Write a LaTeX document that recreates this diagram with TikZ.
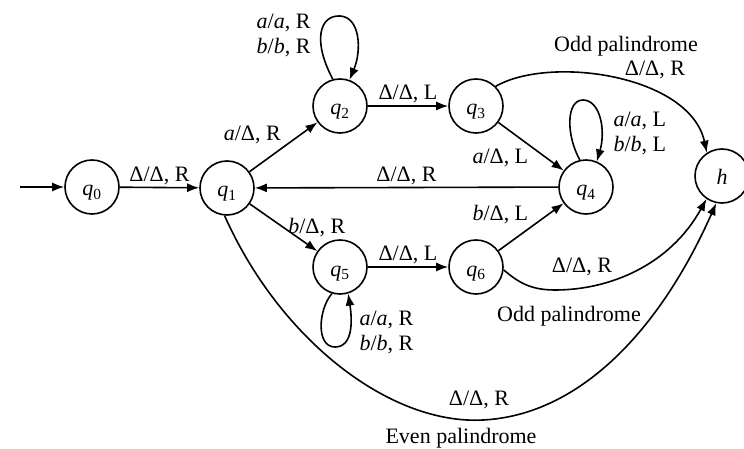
\documentclass[tikz,border=0pt]{standalone}
\usepackage{fontspec}
\setmainfont{Liberation Serif}
\usetikzlibrary{arrows.meta}
\newcommand{\qst}[1]{\smash{\raisebox{-9pt}{\textit{q}\textsubscript{#1}}}}
\newcommand{\hst}{\smash{\raisebox{-9pt}{\textit{h}}}}
\begin{document}
\begin{tikzpicture}[x=1pt,y=-1pt,
  every node/.style={font=\fontsize{22}{25}\selectfont},
  state/.style={circle, draw, line width=1.6pt, minimum size=54pt, inner sep=0pt},
  trans/.style={line width=1.6pt, -{Latex[length=12pt,width=9pt]}},
  lbl/.style={inner sep=2pt}]
\useasboundingbox (0,0) rectangle (744,449);

% states
\node[state] (q0) at (92,187) {\qst{0}};
\node[state] (q1) at (227,188) {\qst{1}};
\node[state] (q2) at (340,106) {\qst{2}};
\node[state] (q3) at (476,106) {\qst{3}};
\node[state] (q4) at (586,187) {\qst{4}};
\node[state] (q5) at (340,267) {\qst{5}};
\node[state] (q6) at (476,267) {\qst{6}};
\node[state] (h)  at (722,176) {\hst};

% start arrow
\coordinate (init) at (20,187);
\draw[trans] (init) -- (q0);

% straight transitions
\draw[trans] (q0) -- node[above, lbl]{Δ/Δ, R} (q1);
\draw[trans] (q1) -- node[above left, lbl]{\textit{a}/Δ, R} (q2);
\draw[trans] (q2) -- node[above, lbl]{Δ/Δ, L} (q3);
\draw[trans] (q3) -- node[below left, lbl]{\textit{a}/Δ, L} (q4);
\draw[trans] (q4) -- node[above, lbl]{Δ/Δ, R} (q1);
\draw[trans] (q1) -- node[right, lbl, xshift=2pt]{\textit{b}/Δ, R} (q5);
\draw[trans] (q5) -- node[above, lbl]{Δ/Δ, L} (q6);
\draw[trans] (q6) -- node[above left, lbl]{\textit{b}/Δ, L} (q4);

% self loops
\draw[trans] (q2.105) .. controls (312,40) and (320,15) .. (340,16)
  .. controls (360,17) and (362,50) .. (q2.70);
\node[align=right, anchor=east] (loop2) at (314,35)
  {\textit{a}/\textit{a}, R\\\textit{b}/\textit{b}, R};

\draw[trans] (q4.103) .. controls (566,135) and (566,100) .. (583,100)
  .. controls (600,100) and (606,130) .. (q4.67);
\node[align=left, anchor=west] (loop4) at (610,133)
  {\textit{a}/\textit{a}, L\\\textit{b}/\textit{b}, L};

\draw[trans] (q5.253) .. controls (318,310) and (316,347) .. (335,347)
  .. controls (354,347) and (352,318) .. (q5.287);
\node[align=left, anchor=west] (loop5) at (356,332)
  {\textit{a}/\textit{a}, R\\\textit{b}/\textit{b}, R};

% accepting transitions into h
\draw[trans] (q3.45) .. controls (550,55) and (690,75) .. (h.123);
\node (oddA) at (626,46) {Odd palindrome};
\node (labA) at (655,70) {Δ/Δ, R};

\draw[trans] (q6.354) .. controls (518,282) and (530,290) .. (555,290)
  .. controls (610,290) and (670,265) .. (h.236);
\node (labB) at (582,267) {Δ/Δ, R};
\node (oddB) at (569,316) {Odd palindrome};

\draw[trans] (q1.265) .. controls (280,340) and (390,425) .. (483,420)
  .. controls (580,415) and (660,330) .. (h.258);
\node (labC) at (479,400) {Δ/Δ, R};
\node (even) at (461,438) {Even palindrome};
\end{tikzpicture}
\end{document}
